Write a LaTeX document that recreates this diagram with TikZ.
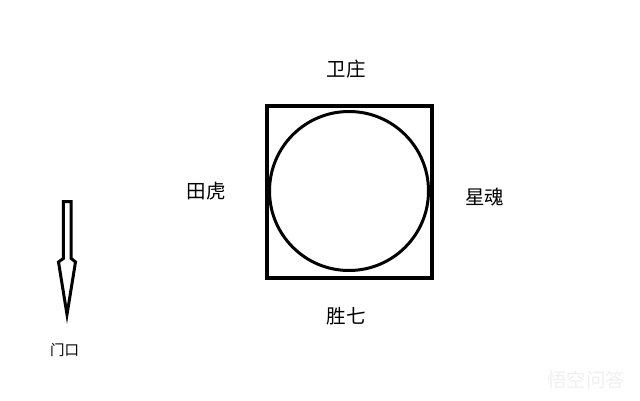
\documentclass[tikz,border=0pt]{standalone}
\usepackage{fontspec}
\setmainfont{Noto Sans CJK SC}
\usepackage{tikz}
\usetikzlibrary{positioning}

\tikzset{
  sidename/.style={font=\fontsize{19.5}{22}\selectfont, inner sep=0pt},
  doorname/.style={font=\fontsize{14.5}{17}\selectfont, inner sep=0pt},
}

\begin{document}
\begin{tikzpicture}[x=1pt, y=-1pt]
            \useasboundingbox [fill=white] (0,0) rectangle (640,401);
            % the square and the circle in it
            \node [draw, line width=4pt, minimum width=165pt, minimum height=171.5pt, inner sep=0pt] (sq) at (349.5,191.75) {};
            \node [draw, circle, line width=3pt, minimum size=159pt, inner sep=0pt] (c) at (349,191) {};
            % the four sides
            \node [sidename] (n) at (346,69) {卫庄};
            \node [sidename] (w) at (206,191.5) {田虎};
            \node [sidename] (e) at (484.5,197) {星魂};
            \node [sidename] (s) at (346,316.5) {胜七};
            % the way in
            \coordinate (a) at (67,201.5);
            \coordinate (b) at (67,314.5);
            \draw [line width=3pt, line join=miter]
              (a -| 63.3,0) -- (63.3,258.5) -- (58.5,262) -- (b)
              -- (75.5,262) -- (71.2,258.5) -- (a -| 71.2,0) -- cycle;
            \node [doorname] (d) at (64.5,349.5) {门口};
            %  \draw (b) -- (d);
            \node [sidename, text=black!6] (wm) at (586,380.5) {悟空问答};
\end{tikzpicture}
\end{document}
